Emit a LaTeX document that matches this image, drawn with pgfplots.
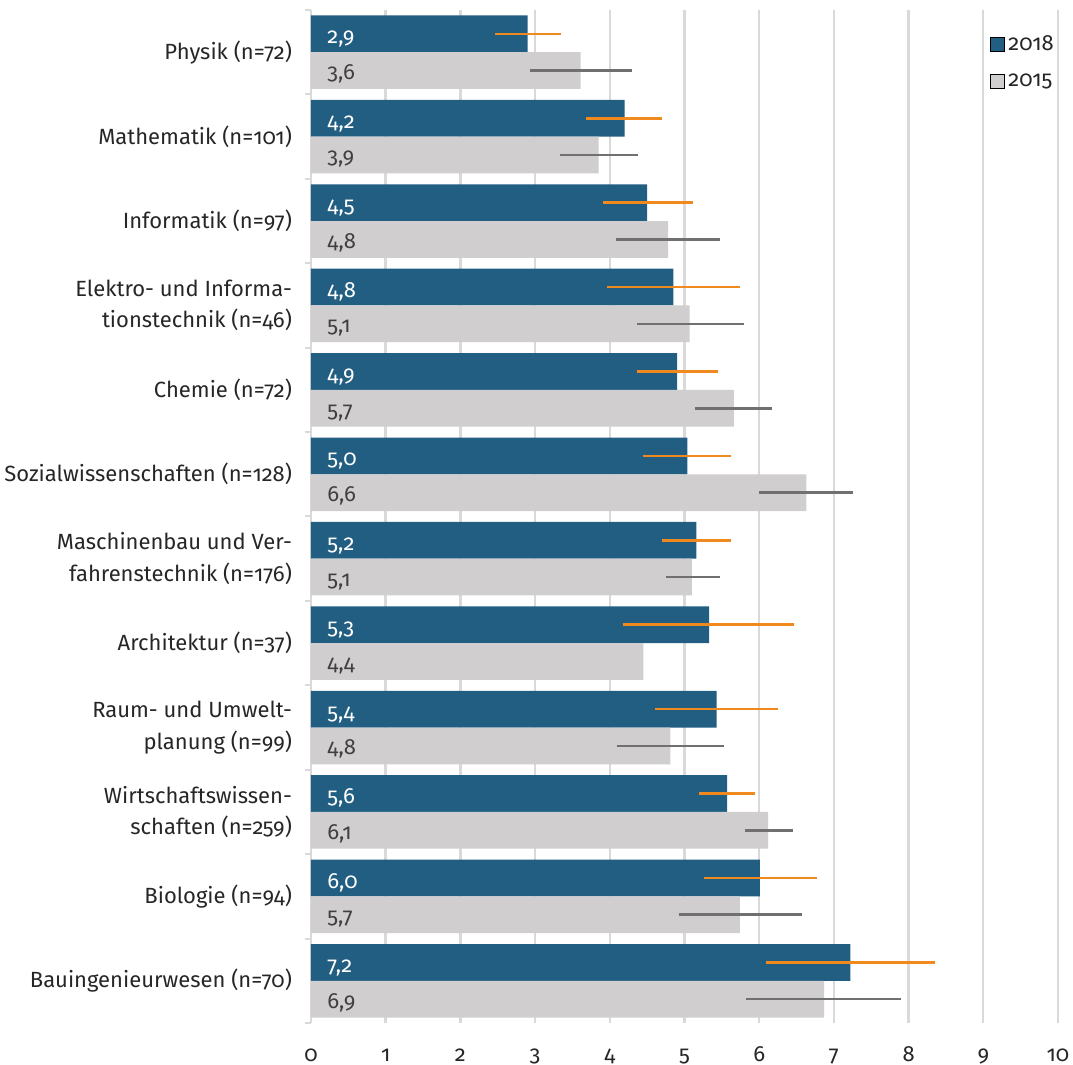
\documentclass[border=0pt]{standalone}
\usepackage{fontspec}
\setmainfont{Fira Sans}[Numbers=OldStyle]
\usepackage{pgfplots}
\usepackage{pgfplotstable}
\pgfplotsset{compat=1.18}
\definecolor{cblue}{RGB}{34,94,130}
\definecolor{cgray}{RGB}{208,206,206}
\definecolor{corange}{RGB}{240,138,30}
\definecolor{cdark}{RGB}{112,112,112}
\definecolor{cgrid}{RGB}{217,217,217}
\definecolor{ctext}{RGB}{38,38,38}
\definecolor{clab}{RGB}{64,64,64}

% 2018: y position, value, error plus, error minus, label
\pgfplotstableread{
y x ep em lab
11.2175 2.90 0.45 0.44 2,9
10.2175 4.20 0.50 0.52 4,2
9.2175 4.50 0.61 0.59 4,5
8.2175 4.85 0.89 0.89 4,8
7.2175 4.90 0.55 0.53 4,9
6.2175 5.04 0.58 0.60 5,0
5.2175 5.16 0.46 0.46 5,2
4.2175 5.33 1.14 1.15 5,3
3.2175 5.43 0.82 0.82 5,4
2.2175 5.57 0.38 0.37 5,6
1.2175 6.01 0.76 0.75 6,0
0.2175 7.22 1.13 1.13 7,2
}\tabA
% 2015
\pgfplotstableread{
y x ep em lab
10.7825 3.61 0.69 0.68 3,6
9.7825 3.85 0.53 0.51 3,9
8.7825 4.78 0.70 0.70 4,8
7.7825 5.07 0.72 0.70 5,1
6.7825 5.66 0.51 0.52 5,7
5.7825 6.63 0.62 0.63 6,6
4.7825 5.10 0.38 0.35 5,1
3.7825 4.45 0.00 0.00 4,4
2.7825 4.81 0.72 0.72 4,8
1.7825 6.12 0.33 0.31 6,1
0.7825 5.74 0.83 0.82 5,7
-0.2175 6.87 1.03 1.04 6,9
}\tabB

\begin{document}
\begin{tikzpicture}
\begin{axis}[
  name=ax, at={(0,0)}, anchor=south west,
  width=373.5pt, height=506.5pt, scale only axis,
  xmin=0, xmax=10, ymin=-0.5, ymax=11.5,
  bar width=0.435, bar shift=0pt,
  axis lines*=left,
  x axis line style={draw=none},
  y axis line style={cgrid, line width=1pt},
  xtick={0,...,10},
  xmajorgrids, major grid style={cgrid, line width=1.2pt},
  ytick={0,...,11},
  yticklabels={
    {Bauingenieurwesen (n=70)},
    {Biologie (n=94)},
    {Wirtschaftswissen-\\schaften (n=259)},
    {Raum- und Umwelt-\\planung (n=99)},
    {Architektur (n=37)},
    {Maschinenbau und Ver-\\fahrenstechnik (n=176)},
    {Sozialwissenschaften (n=128)},
    {Chemie (n=72)},
    {Elektro- und Informa-\\tionstechnik (n=46)},
    {Informatik (n=97)},
    {Mathematik (n=101)},
    {Physik (n=72)}},
  minor ytick={-0.5,0.5,...,11.5},
  major tick length=0pt, minor tick length=3pt, tick align=outside,
  minor tick style={cgrid, line width=1pt},
  tick label style={font=\fontsize{11}{15.8}\selectfont, text=ctext},
  yticklabel style={align=right, xshift=-6pt},
  xticklabel style={yshift=-7.5pt, text height=8pt, text depth=3pt},
  /pgf/number format/assume math mode=true,
  legend style={at={(axis cs:9.08,11.25)}, anchor=north west, draw=none, fill=none,
    font=\fontsize{11}{13}\selectfont, text=ctext, row sep=6pt, inner sep=0pt},
  legend cell align=left,
  legend image code/.code={\fill[#1] (0pt,-3.5pt) rectangle (7pt,3.5pt);},
]
\addplot[xbar, forget plot, fill=cblue, draw=none,
  error bars/.cd, x dir=both, x explicit, error mark=none,
  error bar style={corange, line width=1.3pt}]
  table[x=x, y=y, x error plus=ep, x error minus=em]{\tabA};
\addplot[xbar, forget plot, fill=cgray, draw=none,
  error bars/.cd, x dir=both, x explicit, error mark=none,
  error bar style={cdark, line width=1.3pt}]
  table[x=x, y=y, x error plus=ep, x error minus=em]{\tabB};
\addplot[forget plot, draw=none, mark=none, nodes near coords, point meta=explicit symbolic,
  nodes near coords style={anchor=base west, xshift=8pt, yshift=-5pt, inner sep=0pt,
    text=white, font=\fontsize{11}{13}\selectfont}]
  table[x expr=0, y=y, meta=lab]{\tabA};
\addplot[forget plot, draw=none, mark=none, nodes near coords, point meta=explicit symbolic,
  nodes near coords style={anchor=base west, xshift=8pt, yshift=-4.5pt, inner sep=0pt,
    text=clab, font=\fontsize{11}{13}\selectfont}]
  table[x expr=0, y=y, meta=lab]{\tabB};
\addlegendimage{fill=cblue}
\addlegendentry{2018}
\addlegendimage{fill=cgray}
\addlegendentry{2015}
\end{axis}
\pgfresetboundingbox
\path[use as bounding box] (-155.5pt,-21pt) rectangle (381pt,511.5pt);
\end{tikzpicture}
\end{document}
